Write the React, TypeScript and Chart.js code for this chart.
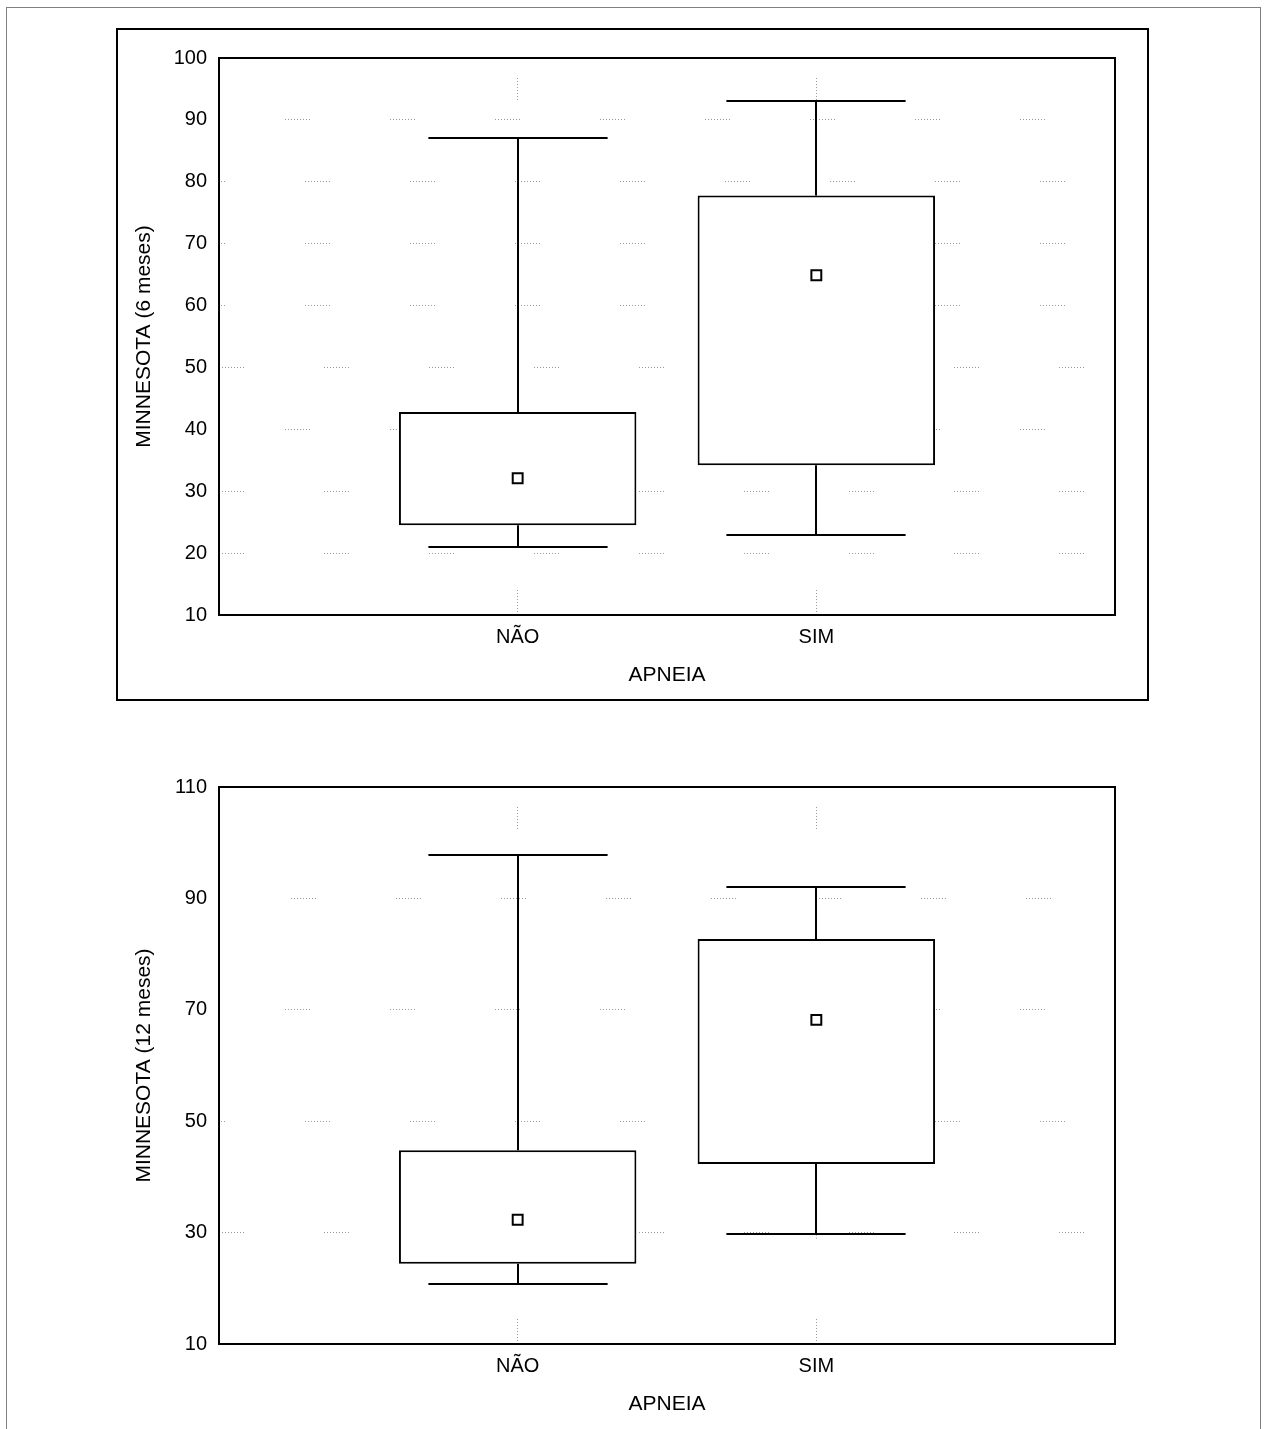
import React, { useEffect, useRef } from 'react';
import { Chart, registerables } from 'chart.js';

Chart.register(...registerables);

// ---------- data ----------
const categories = ['NÃO', 'SIM'];
const xAxisTitle = 'APNEIA';

const title6 = 'MINNESOTA (6 meses)';
const min6 = [21, 23];
const q1_6 = [24.5, 34.2];
const q3_6 = [42.8, 77.8];
const max6 = [87, 93];
const mean6 = [32.1, 64.9];
const yMin6 = 10;
const yMax6 = 100;
const yStep6 = 10;

const title12 = 'MINNESOTA (12 meses)';
const min12 = [20.8, 29.8];
const q1_12 = [24.4, 42.3];
const q3_12 = [44.8, 82.7];
const max12 = [97.8, 92];
const mean12 = [32.3, 68.2];
const yMin12 = 10;
const yMax12 = 110;
const yStep12 = 20;

// ---------- styling helpers ----------
const FONT = "'Liberation Sans', Arial, Helvetica, sans-serif";

const dotRun = (n: number, gap: number) => {
  const a: number[] = [];
  for (let i = 0; i < n - 1; i++) a.push(1, 2);
  a.push(1, gap);
  return a;
};
const H_DASH = dotRun(9, 80);
const H_PERIOD = H_DASH.reduce((s, v) => s + v, 0);
const V_DASH = dotRun(8, 80.4);
const V_PERIOD = V_DASH.reduce((s, v) => s + v, 0);

// start (px from left) of the first dotted run on each gridline row
const rowStarts6: Record<number, number> = { 20: 0, 30: 0, 40: 66, 50: 0, 60: 86, 70: 86, 80: 86, 90: 66 };
const rowStarts12: Record<number, number> = { 30: 0, 50: 86, 70: 66, 90: 72 };

const CAP = 0.3;

type BoxProps = {
  yTitle: string;
  mins: number[];
  q1s: number[];
  q3s: number[];
  maxs: number[];
  means: number[];
  yMin: number;
  yMax: number;
  yStep: number;
  rowStarts: Record<number, number>;
};

function BoxChart(props: BoxProps) {
  const ref = useRef<HTMLCanvasElement | null>(null);
  useEffect(() => {
    if (!ref.current) return;
    const { yTitle, mins, q1s, q3s, maxs, means, yMin, yMax, yStep, rowStarts } = props;

    const boxPlugin = {
      id: 'boxWhiskers',
      beforeDatasetsDraw(chart: any) {
        const { ctx, scales } = chart;
        const x = scales.x;
        const y = scales.y;
        ctx.save();
        ctx.strokeStyle = '#000';
        ctx.lineWidth = 2;
        ctx.setLineDash([]);
        categories.forEach((_, i) => {
          const cx = Math.round(x.getPixelForValue(i + 1));
          const hw = x.getPixelForValue(i + 1 + CAP) - x.getPixelForValue(i + 1);
          const yMaxP = Math.round(y.getPixelForValue(maxs[i]));
          const yMinP = Math.round(y.getPixelForValue(mins[i]));
          const yQ3 = y.getPixelForValue(q3s[i]);
          const yQ1 = y.getPixelForValue(q1s[i]);
          ctx.beginPath();
          ctx.moveTo(cx, yQ3);
          ctx.lineTo(cx, yMaxP);
          ctx.moveTo(cx - hw, yMaxP);
          ctx.lineTo(cx + hw, yMaxP);
          ctx.moveTo(cx, yQ1);
          ctx.lineTo(cx, yMinP);
          ctx.moveTo(cx - hw, yMinP);
          ctx.lineTo(cx + hw, yMinP);
          ctx.stroke();
        });
        ctx.restore();
      },
      afterDraw(chart: any) {
        const { ctx, chartArea } = chart;
        ctx.save();
        ctx.strokeStyle = '#000';
        ctx.lineWidth = 2;
        ctx.setLineDash([]);
        ctx.strokeRect(chartArea.left, chartArea.top, chartArea.right - chartArea.left, chartArea.bottom - chartArea.top);
        ctx.restore();
      },
    };

    const chart = new Chart(ref.current, {
      type: 'bar',
      data: {
        datasets: [
          {
            type: 'bar',
            data: categories.map((_, i) => ({ x: i + 1, y: [q1s[i], q3s[i]] })) as any,
            backgroundColor: '#ffffff',
            borderColor: '#000000',
            borderWidth: 2,
            borderSkipped: false,
            categoryPercentage: 1,
            barPercentage: 0.795,
            order: 2,
          },
          {
            type: 'scatter',
            data: categories.map((_, i) => ({ x: i + 1, y: means[i] })),
            pointStyle: 'rect',
            pointRadius: 7,
            pointBackgroundColor: '#ffffff',
            pointBorderColor: '#000000',
            pointBorderWidth: 2,
            order: 1,
          } as any,
        ],
      },
      options: {
        animation: false,
        responsive: false,
        maintainAspectRatio: false,
        layout: { padding: { left: 0, top: 27, right: 32, bottom: 0 } },
        plugins: { legend: { display: false }, tooltip: { enabled: false } },
        scales: {
          x: {
            type: 'linear',
            min: 0,
            max: 3,
            offset: false,
            ticks: {
              stepSize: 1,
              autoSkip: false,
              maxRotation: 0,
              padding: 10,
              color: '#000',
              font: { family: FONT, size: 20 },
              callback: (v: any) => categories[Number(v) - 1] ?? '',
            },
            grid: { offset: false, color: '#9a9a9a', lineWidth: 1, drawTicks: false },
            border: { display: false, dash: V_DASH, dashOffset: V_PERIOD - 20 },
            title: {
              display: true,
              text: xAxisTitle,
              color: '#000',
              font: { family: FONT, size: 21 },
              padding: { top: 0, bottom: 11 },
            },
            afterFit: (s: any) => {
              s.height = 84;
            },
          } as any,
          y: {
            min: yMin,
            max: yMax,
            ticks: {
              stepSize: yStep,
              padding: 12,
              color: '#000',
              font: { family: FONT, size: 20 },
            },
            grid: { color: '#9a9a9a', lineWidth: 1, drawTicks: false },
            border: {
              display: false,
              dash: H_DASH,
              dashOffset: (c: any) => {
                const v = c && c.tick ? c.tick.value : 0;
                const s = rowStarts[v] ?? 0;
                return (H_PERIOD - s) % H_PERIOD;
              },
            },
            title: {
              display: true,
              text: yTitle,
              color: '#000',
              font: { family: FONT, size: 21 },
              padding: { top: 13, bottom: 0 },
            },
            afterFit: (s: any) => {
              s.width = 100;
            },
          } as any,
        },
      },
      plugins: [boxPlugin],
    });
    return () => chart.destroy();
  }, []);
  return <canvas ref={ref} width={1028} height={668} style={{ width: 1028, height: 668, display: 'block' }} />;
}

export default function App() {
  return (
    <div
      style={{
        position: 'absolute',
        left: 0,
        top: 0,
        width: 1264,
        height: 1429,
        overflow: 'hidden',
        background: '#ffffff',
      }}
    >
      <div
        style={{
          position: 'absolute',
          left: 6,
          top: 7,
          width: 1255,
          height: 1500,
          border: '1px solid #808080',
          boxSizing: 'border-box',
        }}
      />
      <div
        style={{
          position: 'absolute',
          left: 116,
          top: 28,
          width: 1033,
          height: 673,
          border: '2px solid #000',
          boxSizing: 'border-box',
        }}
      />
      <div style={{ position: 'absolute', left: 119, top: 31 }}>
        <BoxChart
          yTitle={title6}
          mins={min6}
          q1s={q1_6}
          q3s={q3_6}
          maxs={max6}
          means={mean6}
          yMin={yMin6}
          yMax={yMax6}
          yStep={yStep6}
          rowStarts={rowStarts6}
        />
      </div>
      <div style={{ position: 'absolute', left: 119, top: 760 }}>
        <BoxChart
          yTitle={title12}
          mins={min12}
          q1s={q1_12}
          q3s={q3_12}
          maxs={max12}
          means={mean12}
          yMin={yMin12}
          yMax={yMax12}
          yStep={yStep12}
          rowStarts={rowStarts12}
        />
      </div>
    </div>
  );
}
